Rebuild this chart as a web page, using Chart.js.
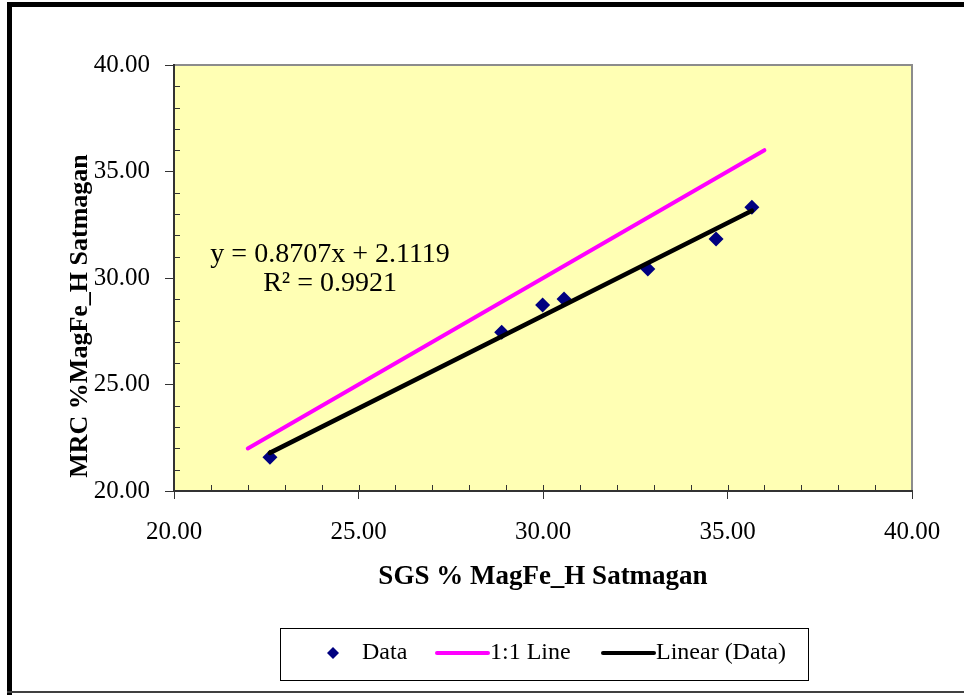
<!DOCTYPE html>
<html>
<head>
<meta charset="utf-8">
<script src="https://cdn.jsdelivr.net/npm/chart.js@4.4.1/dist/chart.umd.min.js"></script>
<style>
  html, body { margin: 0; padding: 0; background: #fff; }
  canvas { display: block; }
</style>
</head>
<body>
<canvas id="chart" width="964" height="695"></canvas>
<script>
// values
const sgsValues = [22.60, 28.88, 29.99, 30.57, 32.84, 34.69, 35.66];
const mrcValues = [21.58, 27.45, 28.73, 29.01, 30.42, 31.83, 33.32];
const oneToOneX = [22, 36];
const oneToOneY = [22, 36];
const linearX = [22.60, 35.66];
const linearY = [21.79, 33.16];
const fitText = ['y = 0.8707x + 2.1119', 'R\u00B2 = 0.9921'];
const xTitle = 'SGS % MagFe_H Satmagan';
const yTitle = 'MRC %MagFe_H Satmagan';

const SERIF = "'Liberation Serif', 'Times New Roman', serif";

function toPoints(xs, ys) {
    return xs.map((x, i) => ({ x: x, y: ys[i] }));
}

const framePlugin = {
    id: 'frame',
    beforeDraw(chart) {
        const ctx = chart.ctx;
        const a = chart.chartArea;
        ctx.save();
        ctx.fillStyle = '#fff';
        ctx.fillRect(0, 0, chart.width, chart.height);
        // outer border of the picture
        ctx.fillStyle = '#000';
        ctx.fillRect(7, 2, 5, 693);
        ctx.fillRect(7, 2, chart.width - 7, 5);
        ctx.fillStyle = '#404040';
        ctx.fillRect(7, 691, chart.width - 7, 2);
        // plot area
        ctx.fillStyle = '#ffffb4';
        ctx.fillRect(a.left, a.top, a.right - a.left, a.bottom - a.top);
        ctx.strokeStyle = '#8c8c8c';
        ctx.lineWidth = 2;
        ctx.beginPath();
        ctx.moveTo(a.left, a.top);
        ctx.lineTo(a.right, a.top);
        ctx.lineTo(a.right, a.bottom);
        ctx.stroke();
        ctx.restore();
    },
    afterDraw(chart) {
        const ctx = chart.ctx;
        const a = chart.chartArea;
        const xs = chart.scales.x;
        const ys = chart.scales.y;
        ctx.save();

        // minor ticks (inside) and inner half of the major x ticks
        ctx.strokeStyle = '#333';
        ctx.lineWidth = 1;
        ctx.beginPath();
        for (let v = xs.min + 1; v < xs.max; v++) {
            const px = Math.round(xs.getPixelForValue(v)) + 0.5;
            ctx.moveTo(px, a.bottom);
            ctx.lineTo(px, a.bottom - 6);
        }
        for (let v = ys.min + 1; v < ys.max; v++) {
            if (v % 5 === 0) continue;
            const py = Math.round(ys.getPixelForValue(v)) + 0.5;
            ctx.moveTo(a.left, py);
            ctx.lineTo(a.left + 6, py);
        }
        ctx.stroke();

        // trendline equation
        ctx.fillStyle = '#000';
        ctx.font = '28px ' + SERIF;
        ctx.textAlign = 'center';
        ctx.textBaseline = 'middle';
        const ax = xs.getPixelForValue(24.23);
        const ay = ys.getPixelForValue(31.10);
        ctx.fillText(fitText[0], ax, ay);
        ctx.fillText(fitText[1], ax, ay + 29);

        // y axis title
        ctx.font = 'bold 26px ' + SERIF;
        ctx.translate(80, 316);
        ctx.rotate(-Math.PI / 2);
        ctx.fillText(yTitle, 0, 0);
        ctx.setTransform(1, 0, 0, 1, 0, 0);

        // legend
        const ds = chart.data.datasets;
        const cy = 653;
        ctx.strokeStyle = '#000';
        ctx.lineWidth = 1;
        ctx.strokeRect(280.5, 628.5, 528, 52);
        ctx.font = '24px ' + SERIF;
        ctx.textAlign = 'left';

        ctx.fillStyle = ds[0].backgroundColor;
        ctx.beginPath();
        ctx.moveTo(333, cy - 6);
        ctx.lineTo(339, cy);
        ctx.lineTo(333, cy + 6);
        ctx.lineTo(327, cy);
        ctx.closePath();
        ctx.fill();
        ctx.fillStyle = '#000';
        ctx.fillText(ds[0].label, 362, cy);

        ctx.lineCap = 'round';
        ctx.lineWidth = 4;
        ctx.strokeStyle = ds[1].borderColor;
        ctx.beginPath();
        ctx.moveTo(437, cy);
        ctx.lineTo(488, cy);
        ctx.stroke();
        ctx.fillText(ds[1].label, 490, cy);

        ctx.strokeStyle = ds[2].borderColor;
        ctx.beginPath();
        ctx.moveTo(603, cy);
        ctx.lineTo(654, cy);
        ctx.stroke();
        ctx.fillText(ds[2].label, 656, cy);

        ctx.restore();
    }
};

new Chart(document.getElementById('chart'), {
    type: 'scatter',
    data: {
        datasets: [
            {
                label: 'Data',
                data: toPoints(sgsValues, mrcValues),
                pointStyle: 'rectRot',
                pointRadius: 7.5,
                backgroundColor: '#000080',
                borderColor: '#000080',
                borderWidth: 0,
                showLine: false,
                order: 3
            },
            {
                label: '1:1 Line',
                data: toPoints(oneToOneX, oneToOneY),
                showLine: true,
                borderColor: '#ff00ff',
                borderWidth: 4,
                borderCapStyle: 'round',
                pointRadius: 0,
                order: 2
            },
            {
                label: 'Linear (Data)',
                data: toPoints(linearX, linearY),
                showLine: true,
                borderColor: '#000',
                borderWidth: 4.5,
                borderCapStyle: 'round',
                pointRadius: 0,
                order: 1
            }
        ]
    },
    options: {
        responsive: false,
        animation: false,
        devicePixelRatio: 1,
        layout: { padding: { left: 0, top: 65, right: 52, bottom: 94 } },
        plugins: {
            legend: { display: false },
            tooltip: { enabled: false }
        },
        scales: {
            x: {
                type: 'linear',
                position: 'bottom',
                min: 20,
                max: 40,
                afterFit: s => { s.height = 110; },
                ticks: {
                    stepSize: 5,
                    padding: 18,
                    color: '#000',
                    font: { family: SERIF, size: 25 },
                    callback: v => v.toFixed(2)
                },
                grid: { drawOnChartArea: false, drawTicks: true, tickLength: 8, tickColor: '#333' },
                border: { display: true, color: '#333', width: 2 },
                title: {
                    display: true,
                    text: xTitle,
                    color: '#000',
                    font: { family: SERIF, size: 27, weight: 'bold', lineHeight: 1.2 },
                    padding: { top: 0, bottom: 8 }
                }
            },
            y: {
                type: 'linear',
                min: 20,
                max: 40,
                afterFit: s => { s.width = 174; },
                ticks: {
                    stepSize: 5,
                    padding: 15,
                    color: '#000',
                    font: { family: SERIF, size: 25 },
                    callback: v => v.toFixed(2)
                },
                grid: { drawOnChartArea: false, drawTicks: true, tickLength: 9, tickColor: '#333' },
                border: { display: true, color: '#333', width: 2 }
            }
        }
    },
    plugins: [framePlugin]
});
</script>
</body>
</html>
